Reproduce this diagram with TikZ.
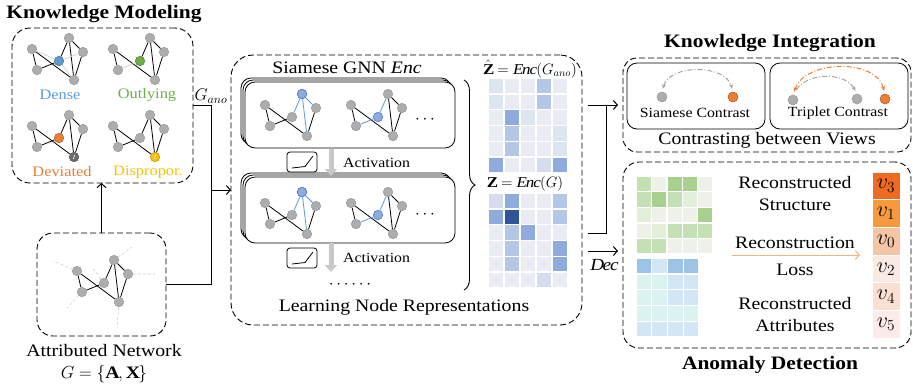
\documentclass[tikz,border=0pt]{standalone}
\usepackage{fix-cm}
\usepackage{fontspec}
\setmainfont[FakeStretch=1.13]{Liberation Serif}
\usetikzlibrary{arrows.meta,decorations.pathreplacing}
\definecolor{ngray}{HTML}{ADADAD}
\definecolor{ngrayd}{HTML}{969696}
\definecolor{lgray}{HTML}{D0D0D0}
\definecolor{cdense}{HTML}{5B9BD5}
\definecolor{cout}{HTML}{70AD47}
\definecolor{cdev}{HTML}{ED7D31}
\definecolor{cdis}{HTML}{FFC000}
\definecolor{mblue}{HTML}{8FAADC}
\definecolor{mblued}{HTML}{4472C4}
\definecolor{eblue}{HTML}{5B9BD5}
\definecolor{Lz}{HTML}{E9EBF5}
\definecolor{Lo}{HTML}{DCE5F2}
\definecolor{Ld}{HTML}{D6DCEF}
\definecolor{Lt}{HTML}{B4C7E7}
\definecolor{Lm}{HTML}{8FAADC}
\definecolor{Lk}{HTML}{2F5597}
\definecolor{Gz}{HTML}{EDF1EA}
\definecolor{Go}{HTML}{E2EFDA}
\definecolor{Gt}{HTML}{C5E0B4}
\definecolor{Gm}{HTML}{A9D18E}
\definecolor{Bh}{HTML}{9DC3E6}
\definecolor{Bl}{HTML}{D2E6F5}
\definecolor{Tl}{HTML}{DAF3F1}
\definecolor{rA}{HTML}{F06A22}
\definecolor{rB}{HTML}{F79A3E}
\definecolor{rC}{HTML}{F5C6A5}
\definecolor{rD}{HTML}{FBEAE4}
\definecolor{rE}{HTML}{FAE0D2}
\definecolor{rF}{HTML}{FCEBE6}
\definecolor{oarrow}{HTML}{F4B183}
\definecolor{carc}{HTML}{A6A6A6}
\definecolor{gbig}{HTML}{C8C8C8}

\newcommand{\kgraph}[5]{%
  \node[gn] (#1a) at (#2,#3) {};
  \node[gn] (#1b) at ({#2+37},{#3-11}) {};
  \node[gn] (#1c) at ({#2+51},{#3+3}) {};
  \node[gn,#4] (#1d) at ({#2+27},{#3+12}) {};
  \node[gn] (#1e) at ({#2+5},{#3+21}) {};
  \node[gn,#5] (#1f) at ({#2+42},{#3+31}) {};
}
\newcommand{\kbase}[1]{\draw[ge] (#1a)--(#1e) (#1a)--(#1f) (#1b)--(#1f) (#1b)--(#1c) (#1c)--(#1f);}
\newcommand{\heatmap}[5]{%
  \foreach \rw [count=\ri] in {#5} {
    \foreach \cc [count=\ci] in \rw {
      \fill[\cc] ({#1+(\ci-1)*#3+0.7},{#2+(\ri-1)*#4+0.7}) rectangle ++({#3-1.4},{#4-1.4});
    }
  }
}

\begin{document}
\begin{tikzpicture}[x=1pt,y=-1pt,
 gn/.style={circle, fill=ngray, draw=ngrayd, line width=0.5pt, minimum size=9.5pt, inner sep=0pt},
 ge/.style={line width=0.8pt, black},
 gl/.style={line width=0.7pt, lgray},
 be/.style={line width=0.8pt, eblue},
 bn/.style={fill=mblue, draw=mblued},
 panel/.style={draw, dash pattern=on 6pt off 3pt, line width=0.9pt, inner sep=0pt, outer sep=0pt},
 conn/.style={line width=1pt, -{Straight Barb[length=4pt,width=9pt]}},
 title/.style={font=\bfseries\fontsize{19}{22}\selectfont, inner sep=0pt},
 lbl/.style={font=\fontsize{17.5}{22}\selectfont, inner sep=0pt},
 mlbl/.style={font=\fontsize{14.5}{18}\selectfont, inner sep=0pt},
 slbl/.style={font=\fontsize{14}{17}\selectfont, inner sep=0pt},
 mathl/.style={font=\fontsize{17}{20}\selectfont, inner sep=0pt},
 gbox/.style={draw, rounded corners=10pt, fill=white, line width=0.8pt, minimum width=210pt, minimum height=66pt, inner sep=0pt},
 actbox/.style={draw, rounded corners=3pt, line width=0.8pt, minimum width=30pt, minimum height=20pt, inner sep=0pt},
 grayarr/.style={draw=gbig, line width=5pt, -{Triangle[length=7pt,width=12pt]}},
 cbox/.style={draw, rounded corners=10pt, line width=0.8pt, minimum width=138pt, minimum height=66pt, inner sep=0pt},
 cn/.style={circle, minimum size=10pt, inner sep=0pt, line width=0.5pt},
 arcg/.style={carc, line width=1pt, dash pattern=on 5pt off 2pt on 1pt off 2pt},
 arco/.style={cdev, line width=1pt, dash pattern=on 5pt off 2pt on 1pt off 2pt},
 rk/.style={minimum width=28pt, minimum height=27.7pt, inner sep=0pt, draw=white, line width=0.8pt, font=\fontsize{22}{24}\selectfont},
 dashout/.style={lgray, line width=0.6pt, dash pattern=on 3pt off 2pt}
]
\useasboundingbox (0,0) rectangle (913,384);

% ---------------- Knowledge Modeling ----------------
\node[title] (tkm) at (104,14) {Knowledge Modeling};
\node[panel, rounded corners=18pt, minimum width=181pt, minimum height=155pt] (km) at (102.5,105.5) {};

\kgraph{kd}{32}{49}{fill=cdense,draw=cdense!70!black}{}
\kbase{kd}
\draw[ge] (kde)--(kdd) (kdd)--(kdb);
\draw[gl] (kdd)--(kda) (kdd)--(kdc) (kdd)--(kdf);
\node[mlbl, text=cdense] (ldense) at (60,95) {Dense};

\kgraph{ko}{113}{49}{fill=cout,draw=cout!70!black}{}
\kbase{ko}
\draw[ge] (kod)--(kob);
\draw[gl] (koe)--(kod);
\node[mlbl, text=cout] (lout) at (147,95) {Outlying};

\kgraph{kv}{32}{126}{fill=cdev,draw=cdev!70!black}{fill=gray!85!black,draw=gray!60!black}
\kbase{kv}
\draw[ge] (kve)--(kvd) (kvd)--(kvb);
\draw[white, line width=0.6pt] ([shift={(-0.6,2)}]kvf.center) -- ([shift={(0.6,-2)}]kvf.center);
\node[mlbl, text=cdev] (ldev) at (62,172) {Deviated};

\kgraph{kp}{113}{126}{}{fill=cdis,draw=cdis!75!black}
\kbase{kp}
\draw[ge] (kpe)--(kpd) (kpd)--(kpb);
\draw[white, line width=0.6pt] ([shift={(-0.6,2)}]kpf.center) -- ([shift={(0.6,-2)}]kpf.center);
\node[mlbl, text=cdis] (ldis) at (148,172) {Dispropor.};

% ---------------- Attributed Network ----------------
\node[panel, rounded corners=16pt, minimum width=129pt, minimum height=103pt] (an) at (101.5,284.5) {};
\kgraph{ka}{77}{271}{}{}
\kbase{ka}
\draw[ge] (kae)--(kad) (kad)--(kab);
\coordinate (oa) at (53,261); \coordinate (oe) at (67,308); \coordinate (od) at (92,267);
\coordinate (ob) at (132,247); \coordinate (oc) at (155,274); \coordinate (of) at (117,328);
\draw[dashout] (kaa)--(oa) (kae)--(oe) (kad)--(od) (kab)--(ob) (kac)--(oc) (kaf)--(of);
\node[lbl] (tan) at (104,351) {Attributed Network};
\node[lbl, anchor=north] (tg) at (104,365) {$G=\{\mathbf{A},\mathbf{X}\}$};

% ---------------- connectors left ----------------
\node[panel, rounded corners=22pt, minimum width=351pt, minimum height=270pt] (mid) at (406.5,190) {};
\coordinate (j1) at (211,190);
\draw[line width=1pt] (km.east) -| (j1);
\draw[line width=1pt] (an.east) -| (j1);
\draw[conn] (j1) -- (j1 -| mid.west);
\draw[conn] (an.north) -- (an.north |- km.south);
\node[mathl] (lgano) at (211,96) {$G_{ano}$};

% ---------------- Middle panel ----------------
\node[lbl] (tenc) at (347,68) {Siamese GNN \textit{Enc}};
\draw[rounded corners=10pt, fill=white, line width=0.8pt] (241,78) rectangle ++(210,66);
\draw[rounded corners=10pt, fill=white, line width=0.8pt] (243,80) rectangle ++(210,66);
\node[gbox] (g1) at (350,115) {};
\draw[rounded corners=10pt, fill=white, line width=0.8pt] (241,173) rectangle ++(210,66);
\draw[rounded corners=10pt, fill=white, line width=0.8pt] (243,175) rectangle ++(210,66);
\node[gbox] (g2) at (350,210) {};

\kgraph{ml}{265}{105}{}{}
\node[gn,bn] at (mlb) {};
\draw[ge] (mla)--(mle) (mla)--(mlf) (mle)--(mld) (mlc)--(mlf);
\draw[be] (mld)--(mlb) (mlb)--(mlc) (mlb)--(mlf);
\kgraph{mr}{351}{105}{bn}{}
\draw[ge] (mra)--(mre) (mra)--(mrf) (mrb)--(mrf) (mrb)--(mrc) (mrc)--(mrf);
\draw[be] (mre)--(mrd) (mrd)--(mrb);
\node[mathl] (e1) at (425,120) {$\cdots$};

\kgraph{nl}{265}{203}{}{}
\node[gn,bn] at (nlb) {};
\draw[ge] (nla)--(nle) (nla)--(nlf) (nle)--(nld) (nlc)--(nlf);
\draw[be] (nld)--(nlb) (nlb)--(nlc) (nlb)--(nlf);
\kgraph{nr}{351}{203}{bn}{}
\draw[ge] (nra)--(nre) (nra)--(nrf) (nrb)--(nrf) (nrb)--(nrc) (nrc)--(nrf);
\draw[be] (nre)--(nrd) (nrd)--(nrb);
\node[mathl] (e2) at (425,215) {$\cdots$};

\node[actbox] (a1) at (302,162) {};
\draw[line width=0.8pt] (292,168) -- (305,166.5) -- (313,156);
\draw[grayarr] (331,149) -- (331,176);
\node[slbl, anchor=west] (ta1) at (343,163) {Activation};

\node[actbox] (a2) at (302,258) {};
\draw[line width=0.8pt] (292,264) -- (305,262.5) -- (313,252);
\coordinate (dotsend) at (331,272);
\draw[grayarr] (g2.south -| dotsend) -- (dotsend);
\node[slbl, anchor=west] (ta2) at (343,258) {Activation};
\node[mathl] (dots) at (350,285) {$\cdots\cdots$};

\node[lbl] (tlnr) at (404,307) {Learning Node Representations};

\draw[line width=0.9pt, decorate, decoration={brace, amplitude=11pt}] (464,80) -- (464,290);

% matrices
\node[mathl, font=\fontsize{15}{18}\selectfont] (tzh) at (530,69) {$\hat{\mathbf{Z}}=\mathit{Enc}(G_{ano})$};
\heatmap{488}{78}{16}{15.8}{{Lo,Lz,Lz,Lt,Lz},{Lo,Lz,Lz,Lt,Lz},{Lz,Lm,Lo,Lz,Lz},{Lz,Lt,Lz,Lz,Lo},{Lz,Lt,Lz,Lz,Lo},{Lm,Lz,Lz,Ld,Lm}}
\node[mathl, font=\fontsize{15}{18}\selectfont] (tz) at (525,184) {$\mathbf{Z}=\mathit{Enc}(G)$};
\heatmap{488}{193}{16}{15.8}{{Ld,Lm,Lz,Lz,Lt},{Lm,Lk,Lz,Lz,Lt},{Lz,Lt,Lm,Lz,Lz},{Lz,Lt,Lz,Lz,Lm},{Lz,Lt,Lz,Lz,Lm},{Lz,Lz,Lz,Ld,Lz}}

% ---------------- right connectors ----------------
\node[panel, rounded corners=14pt, minimum width=288pt, minimum height=94pt] (ki) at (767,105) {};
\node[panel, rounded corners=16pt, minimum width=288pt, minimum height=186pt] (ad) at (767,255) {};
\coordinate (m1) at (588,105);
\coordinate (m2) at (588,233);
\coordinate (j2) at (606,105);
\draw[line width=1pt] (m2) -| (j2);
\draw[conn, shorten >=5pt] (m1) -- (m1 -| ki.west);
\coordinate (m3) at (588,251);
\draw[conn, shorten >=5pt] (m3) -- (m3 -| ad.west);
\node[mathl] (ldec) at (604,265) {$\mathit{Dec}$};

% ---------------- Knowledge Integration ----------------
\node[title] (tki) at (770,43) {Knowledge Integration};
\node[cbox] (sc) at (696,96) {};
\node[cbox] (tc) at (839,96) {};
\node[lbl] (tcv) at (767,140) {Contrasting between Views};

\node[cn, fill=ngray, draw=ngrayd] (s1) at (662,97) {};
\node[cn, fill=cdev, draw=cdev!70!black] (s2) at (733,97) {};
\draw[arcg, {Stealth[length=5pt,width=4pt]}-{Stealth[length=5pt,width=4pt]}, shorten <=3pt, shorten >=3pt] (s1.north) .. controls (670,64) and (725,64) .. (s2.north);
\node[slbl] (tsc) at (695,113) {Siamese Contrast};

\node[cn, fill=ngray, draw=ngrayd] (t1) at (793,100) {};
\node[cn, fill=ngray, draw=ngrayd] (t2) at (857,99) {};
\node[cn, fill=cdev, draw=cdev!70!black] (t3) at (885,99) {};
\draw[arcg, -{Stealth[length=5pt,width=4pt]}, shorten <=6pt, shorten >=3pt] (t1.north) .. controls (808,72) and (845,72) .. (t2.north);
\draw[arco, {Stealth[length=5pt,width=4pt]}-{Stealth[length=5pt,width=4pt]}, shorten <=3pt, shorten >=3pt] (t1.north) .. controls (805,60) and (875,58) .. (t3.north);
\node[slbl] (ttc) at (838,113) {Triplet Contrast};

% ---------------- Anomaly Detection ----------------
\node[title] (tad) at (770,365) {Anomaly Detection};
\heatmap{636}{176}{15.4}{15.6}{{Gt,Gz,Gm,Gm,Gz},{Gt,Gm,Gt,Go,Gz},{Go,Gz,Gz,Gz,Gm},{Gz,Go,Gt,Gt,Gt},{Gt,Gt,Gz,Gz,Gz}}
\heatmap{636}{258}{15.75}{15.8}{{Bh,Bl,Bh,Bh},{Tl,Tl,Bl,Bl},{Tl,Tl,Bl,Bl},{Tl,Tl,Tl,Tl},{Bl,Bl,Bl,Bl}}

\node[lbl, align=center] (trs) at (795,194) {Reconstructed\\Structure};
\node[lbl] (trl) at (795,243) {Reconstruction};
\coordinate (oa1) at (732,255); \coordinate (oa2) at (860,255);
\draw[oarrow, line width=1pt, -{Straight Barb[length=4pt,width=9pt]}] (oa1) -- (oa2);
\node[lbl] (tloss) at (795,270) {Loss};
\node[lbl, align=center] (tra) at (795,315) {Reconstructed\\Attributes};

\node[rk, fill=rA] (r1) at (886,185.85) {$v_3$};
\node[rk, fill=rB] (r2) at (886,213.55) {$v_1$};
\node[rk, fill=rC] (r3) at (886,241.25) {$v_0$};
\node[rk, fill=rD] (r4) at (886,268.95) {$v_2$};
\node[rk, fill=rE] (r5) at (886,296.65) {$v_4$};
\node[rk, fill=rF] (r6) at (886,324.35) {$v_5$};
\end{tikzpicture}
\end{document}
